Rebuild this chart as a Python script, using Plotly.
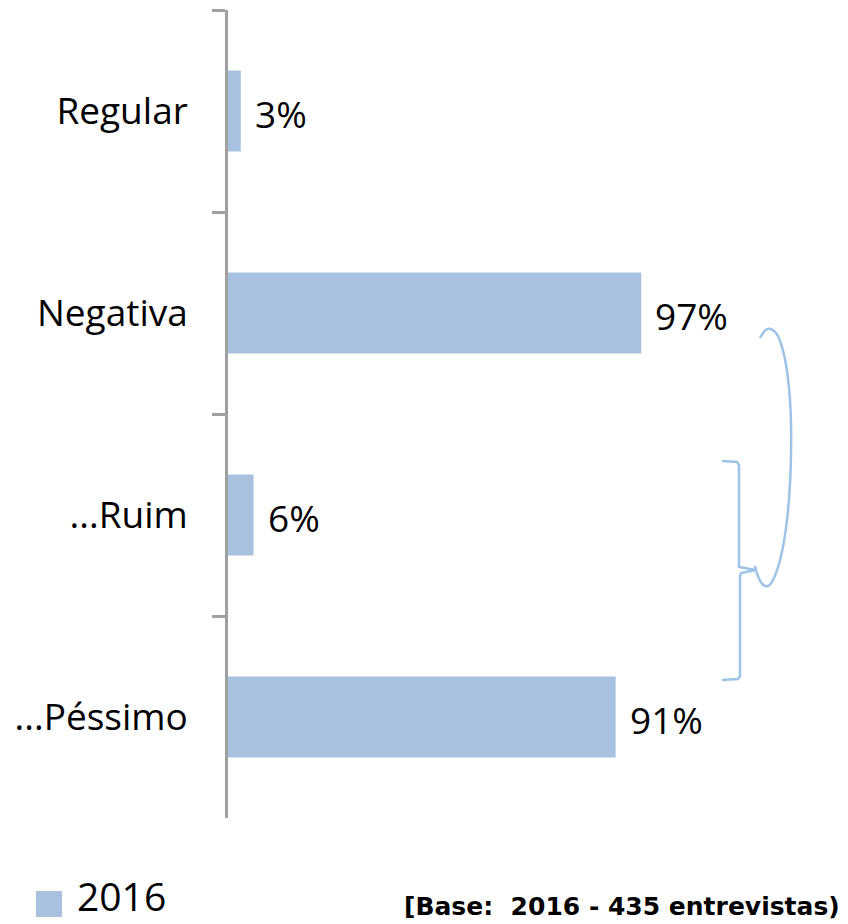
import plotly.graph_objects as go

# ---- data ----
categories = ["Regular", "Negativa", "...Ruim", "...Péssimo"]
values_2016 = [3, 97, 6, 91]
series_name = "2016"
base_note = "[Base:  2016 - 435 entrevistas)"

# ---- layout constants ----
OFF = 8  # default page body margin
W, H = 848 - OFF, 924 - OFF
ML, MR, MT, MB = 220, 3, 2, 106
PW, PH = W - ML - MR, H - MT - MB
PX_PER_PCT = 4.26
BAR_COLOR = "#A7C1DF"
AXIS_COLOR = "#A0A0A0"
BRACKET_COLOR = "#9DC3E6"
FONT = "Open Sans"


def px2paper(x, y):
    """page pixel -> paper coordinates"""
    return (x - OFF - ML) / PW, (H - MB - (y - OFF)) / PH


def path_from_px(cmds):
    out = []
    for c in cmds:
        if isinstance(c, str):
            out.append(c)
        else:
            xp, yp = px2paper(*c)
            out.append(f"{xp:.5f},{yp:.5f}")
    return " ".join(out)


fig = go.Figure()
fig.add_trace(go.Bar(
    y=categories, x=values_2016, orientation="h", name=series_name,
    marker=dict(color=BAR_COLOR, line=dict(width=0)), width=0.4,
    showlegend=False, hoverinfo="skip",
))

# data labels
for c, v in zip(categories, values_2016):
    fig.add_annotation(x=v, y=c, text=f"{v}%", showarrow=False,
                       xanchor="left", yanchor="middle", xshift=12, yshift=-2,
                       font=dict(family=FONT, size=37, color="#000000"))

shapes = []
# curved bracket ")"
curve = path_from_px([
    "M", (760, 338),
    "C", (766, 326), (772, 326), (778, 336),
    "C", (789, 360), (792, 410), (791, 455),
    "C", (790, 510), (784, 560), (772, 582),
    "C", (766, 592), (759, 584), (755, 566),
])
shapes.append(dict(type="path", xref="paper", yref="paper", path=curve,
                   line=dict(color=BRACKET_COLOR, width=2.5)))
# square brace "]" with notch
brace = path_from_px([
    "M", (722, 461),
    "L", (737, 462),
    "L", (739, 465),
    "L", (739, 567),
    "L", (756, 570),
    "M", (756, 570),
    "L", (741, 573),
    "L", (740, 576),
    "L", (740, 676),
    "L", (738, 679),
    "L", (722, 680),
])
shapes.append(dict(type="path", xref="paper", yref="paper", path=brace,
                   line=dict(color=BRACKET_COLOR, width=2.5)))

# legend swatch
x0, y0 = px2paper(36, 917)
x1, y1 = px2paper(62, 891)
shapes.append(dict(type="rect", xref="paper", yref="paper",
                   x0=x0, y0=y0, x1=x1, y1=y1,
                   fillcolor=BAR_COLOR, line=dict(width=0)))

lx, ly = px2paper(75, 895)
fig.add_annotation(xref="paper", yref="paper", x=lx, y=ly, text=series_name,
                   showarrow=False, xanchor="left", yanchor="middle",
                   font=dict(family=FONT, size=39, color="#000000"))
bx, by = px2paper(842, 906)
fig.add_annotation(xref="paper", yref="paper", x=bx, y=by,
                   text="<b>" + base_note.replace("  ", " \u00a0") + "</b>",
                   showarrow=False, xanchor="right", yanchor="middle",
                   font=dict(family="DejaVu Sans", size=25, color="#000000"))

fig.update_layout(
    width=W, height=H, autosize=False,
    margin=dict(l=ML, r=MR, t=MT, b=MB, pad=0),
    paper_bgcolor="white", plot_bgcolor="white",
    shapes=shapes,
    xaxis=dict(range=[0, PW / PX_PER_PCT], visible=False, fixedrange=True),
    yaxis=dict(type="category", categoryorder="array", categoryarray=categories,
               range=[len(categories) - 0.5, -0.5],
               showline=True, linecolor=AXIS_COLOR, linewidth=2.5,
               ticks="outside", ticklen=13, tickwidth=2.5, tickcolor=AXIS_COLOR,
               tickson="boundaries", showgrid=False, zeroline=False,
               ticklabelstandoff=30,
               tickfont=dict(family=FONT, size=37, color="#000000")),
)

fig.write_html("out.html")
